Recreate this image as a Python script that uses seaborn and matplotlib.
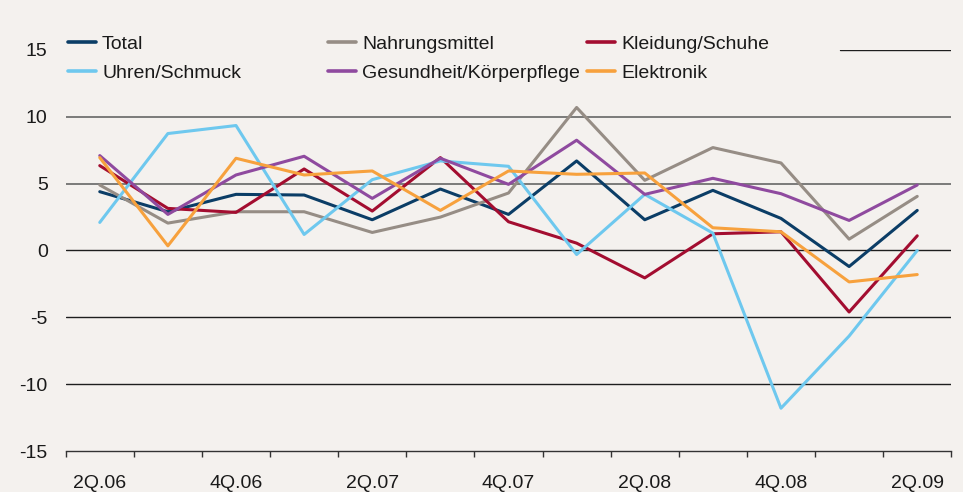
import matplotlib
matplotlib.use("Agg")
import matplotlib.pyplot as plt
import seaborn as sns
import pandas as pd
import numpy as np
from matplotlib.ticker import FixedLocator

quarters = ["2Q.06", "3Q.06", "4Q.06", "1Q.07", "2Q.07", "3Q.07", "4Q.07",
            "1Q.08", "2Q.08", "3Q.08", "4Q.08", "1Q.09", "2Q.09"]
tick_labels = ["2Q.06", "4Q.06", "2Q.07", "4Q.07", "2Q.08", "4Q.08", "2Q.09"]

total = [4.4, 2.9, 4.2, 4.15, 2.3, 4.6, 2.7, 6.7, 2.3, 4.5, 2.4, -1.2, 3.0]
nahrung = [4.9, 2.05, 2.9, 2.9, 1.35, 2.5, 4.3, 10.7, 5.25, 7.7, 6.55, 0.85, 4.05]
kleidung = [6.35, 3.15, 2.85, 6.1, 2.95, 6.95, 2.15, 0.55, -2.05, 1.25, 1.4, -4.6, 1.1]
uhren = [2.1, 8.75, 9.35, 1.2, 5.3, 6.7, 6.3, -0.3, 4.2, 1.3, -11.8, -6.4, 0.0]
gesundheit = [7.1, 2.7, 5.65, 7.05, 3.9, 6.9, 4.95, 8.25, 4.2, 5.4, 4.25, 2.25, 4.9]
elektronik = [6.95, 0.35, 6.9, 5.65, 5.95, 3.0, 5.95, 5.7, 5.8, 1.7, 1.4, -2.35, -1.8]

series = {
    "Total": total,
    "Nahrungsmittel": nahrung,
    "Kleidung/Schuhe": kleidung,
    "Uhren/Schmuck": uhren,
    "Gesundheit/Körperpflege": gesundheit,
    "Elektronik": elektronik,
}
colors = {
    "Total": "#0b3d66",
    "Nahrungsmittel": "#968d85",
    "Kleidung/Schuhe": "#a30d30",
    "Uhren/Schmuck": "#6ec8ee",
    "Gesundheit/Körperpflege": "#8f4a9f",
    "Elektronik": "#f7a13d",
}

rows = []
for name, vals in series.items():
    for i, v in enumerate(vals):
        rows.append({"x": i, "value": v, "series": name})
df = pd.DataFrame(rows)

bg = "#f4f1ee"
sns.set_theme(style="white")
plt.rcParams["font.family"] = ["Liberation Sans", "DejaVu Sans"]
plt.rcParams["text.color"] = "#1a1a1a"

fig = plt.figure(figsize=(9.63, 4.92), dpi=100, facecolor=bg)
ax = fig.add_axes([65.7 / 963, 1 - 451 / 492, (951.3 - 65.7) / 963, (451 - 50) / 492])
ax.set_facecolor(bg)

# grid lines
for yv in [10, 5]:
    ax.axhline(yv, color="#5a5a5a", lw=1.1, zorder=0)
for yv in [0, -5, -10]:
    ax.axhline(yv, color="#1e1e1e", lw=1.0, zorder=0)
ax.axhline(15, xmin=(840 - 65.7) / (951.3 - 65.7), color="#1e1e1e", lw=1.0, zorder=0)

order = list(series.keys())
sns.lineplot(data=df, x="x", y="value", hue="series", hue_order=order,
             palette=colors, lw=2.2, ax=ax, legend=False)

ax.set_xlim(-0.5, len(quarters) - 0.5)
ax.set_ylim(-15, 15)
ax.set_yticks([-15, -10, -5, 0, 5, 10, 15])
ax.set_yticklabels(["-15", "-10", "-5", "0", "5", "10", "15"])
ax.set_xticks(range(0, len(quarters), 2))
ax.set_xticklabels(tick_labels)
ax.xaxis.set_minor_locator(FixedLocator(np.arange(-0.5, len(quarters), 1.0)))
ax.tick_params(axis="x", which="major", length=0, pad=17, labelsize=14, colors="#1a1a1a")
ax.tick_params(axis="x", which="minor", length=4.5, width=1.0, color="#333333", bottom=True)
ax.tick_params(axis="y", length=0, pad=13, labelsize=14, colors="#1a1a1a")
ax.set_xlabel("")
ax.set_ylabel("")
for s in ["top", "right", "left"]:
    ax.spines[s].set_visible(False)
ax.spines["bottom"].set_color("#333333")
ax.spines["bottom"].set_linewidth(1.0)

cols = [["Total", "Uhren/Schmuck"],
        ["Nahrungsmittel", "Gesundheit/Körperpflege"],
        ["Kleidung/Schuhe", "Elektronik"]]
xs = [68, 328, 587]
for cx, names in zip(xs, cols):
    hs = [plt.Line2D([], [], color=colors[n], lw=2.6) for n in names]
    fig.legend(hs, names, loc="upper left",
               bbox_to_anchor=(cx / 963, 1 - 35 / 492),
               frameon=False, fontsize=14, borderpad=0, borderaxespad=0,
               handlelength=1.45, handletextpad=0.3, labelspacing=0.62)

fig.savefig("out.png", dpi=100, facecolor=bg)
